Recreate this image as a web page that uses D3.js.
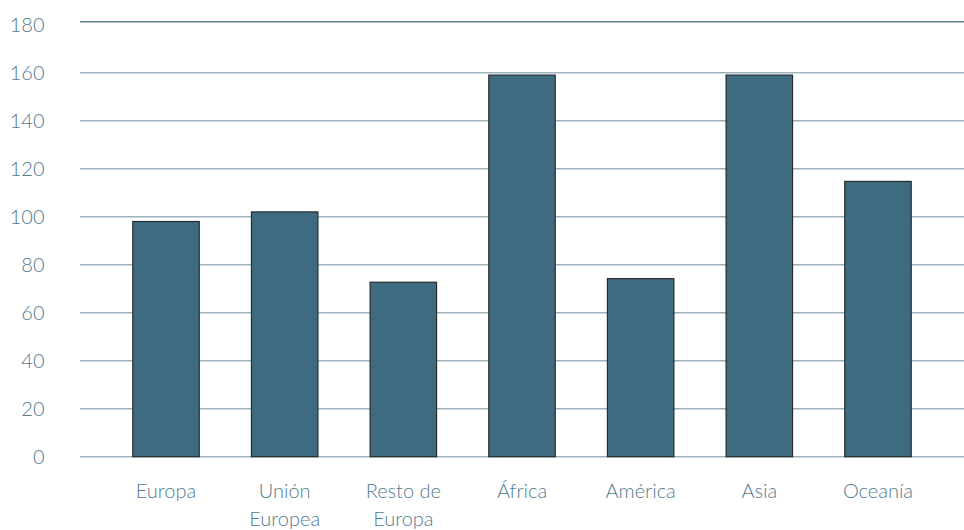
<!DOCTYPE html>
<html>
<head>
<meta charset="utf-8">
<script src="https://cdn.jsdelivr.net/npm/d3@7"></script>
<style>
  html, body { margin: 0; padding: 0; background: #ffffff; }
  svg text { font-family: Lato, "Open Sans", sans-serif; font-weight: 300; fill: #527b8f; }
</style>
</head>
<body>
<svg id="chart" width="964" height="530"></svg>
<script>
const categories = ["Europa", "Unión Europea", "Resto de Europa", "África", "América", "Asia", "Oceanía"];
const categoryLines = [["Europa"], ["Unión", "Europea"], ["Resto de", "Europa"], ["África"], ["América"], ["Asia"], ["Oceanía"]];
const values = [98, 102, 72.7, 159, 74.2, 159, 114.7];
const yTicks = [0, 20, 40, 60, 80, 100, 120, 140, 160, 180];

const svg = d3.select("#chart");
const x = d3.scaleBand().domain(categories).range([80, 964]).paddingInner(0.44).paddingOuter(0.445);
const y = d3.scaleLinear().domain([0, 180]).range([456.7, 24.7]);

// gridlines
svg.append("g").selectAll("line").data(yTicks.filter(d => d < 180)).join("line")
  .attr("x1", 80).attr("x2", 964)
  .attr("y1", d => y(d)).attr("y2", d => y(d))
  .attr("stroke", "#9db3be").attr("stroke-width", 1.6);
// top frame line
svg.append("line")
  .attr("x1", 80).attr("x2", 964)
  .attr("y1", y(180) - 3).attr("y2", y(180) - 3)
  .attr("stroke", "#5f808f").attr("stroke-width", 1.4);

// y tick labels
svg.append("g").selectAll("text").data(yTicks).join("text")
  .attr("x", 44.5).attr("y", d => y(d)).attr("dy", "0.36em")
  .attr("text-anchor", "end").attr("font-size", 20)
  .text(d => d);

// bars
svg.append("g").selectAll("rect").data(categories).join("rect")
  .attr("x", d => x(d)).attr("width", x.bandwidth())
  .attr("y", (d, i) => y(values[i])).attr("height", (d, i) => y(0) - y(values[i]))
  .attr("fill", "#3e6b80").attr("stroke", "#262b2e").attr("stroke-width", 1.2);

// category labels
const lab = svg.append("g").selectAll("text").data(categories).join("text")
  .attr("x", d => x(d) + x.bandwidth() / 2).attr("y", 498)
  .attr("text-anchor", "middle").attr("font-size", 20);
lab.selectAll("tspan").data((d, i) => categoryLines[i]).join("tspan")
  .attr("x", function() { return this.parentNode.getAttribute("x"); })
  .attr("dy", (d, j) => j === 0 ? 0 : 28)
  .text(d => d);
</script>
</body>
</html>
